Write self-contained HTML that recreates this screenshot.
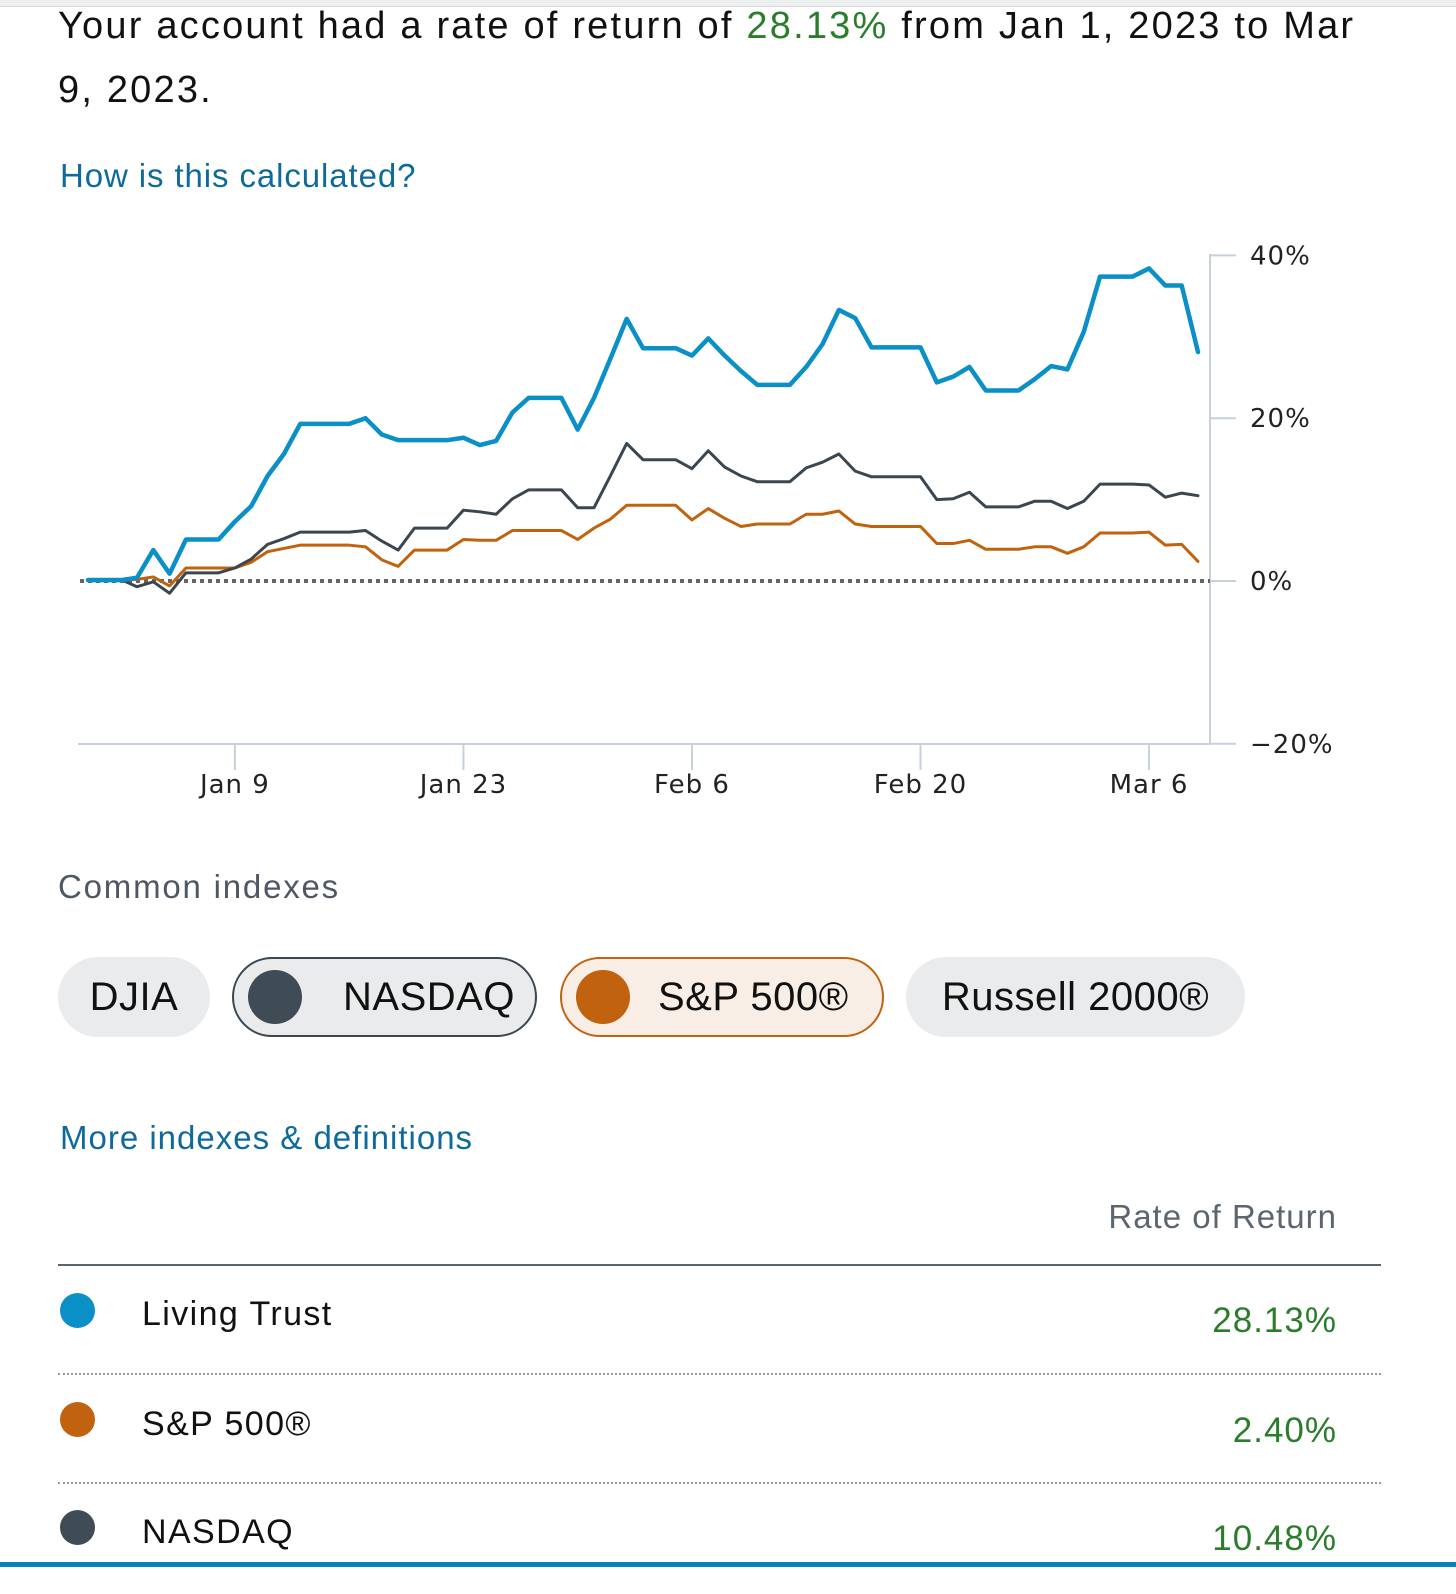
<!DOCTYPE html>
<html><head><meta charset="utf-8"><style>
body{margin:0;width:1456px;height:1589px;overflow:hidden;background:#fff;font-family:"Liberation Sans",sans-serif;position:relative}
.a{position:absolute;white-space:nowrap}
.pill{position:absolute;top:957px;height:80px;border-radius:41px;background:#e9ebed;box-sizing:border-box;font-size:40px;color:#111;display:flex;align-items:center;letter-spacing:0.5px}
.dot{display:inline-block;border-radius:50%}
.row{position:absolute;left:0;width:1456px}
</style></head><body>
<div class="a" style="left:0;top:0;width:1456px;height:6px;background:#eceef0;border-bottom:1px solid #d8d8d8"></div>
<div class="a" style="left:58px;top:-6px;font-size:38px;letter-spacing:2.2px;line-height:64px;color:#111;white-space:normal;width:1320px">Your account had a rate of return of <span style="color:#2a7d2a">28.13%</span> from Jan 1, 2023 to Mar 9, 2023.</div>
<div class="a" style="left:60px;top:157px;font-size:33px;letter-spacing:0.9px;color:#0f6a9c">How is this calculated?</div>
<svg class="a" id="chart" style="left:0;top:0" width="1456" height="820"></svg>
<div class="a" style="left:58px;top:868px;font-size:33px;letter-spacing:1.8px;color:#4d5863">Common indexes</div>
<div class="pill" style="left:58px;width:152px;justify-content:center">DJIA</div>
<div class="pill" style="left:232px;width:305px;border:2px solid #3b4650;padding-left:14px"><span class="dot" style="width:54px;height:54px;background:#3f4b55"></span><span style="margin-left:41px">NASDAQ</span></div>
<div class="pill" style="left:560px;width:324px;border:2px solid #c0620e;background:#f9eee6;padding-left:14px"><span class="dot" style="width:54px;height:54px;background:#c0620e"></span><span style="margin-left:28px">S&amp;P 500®</span></div>
<div class="pill" style="left:906px;width:339px;justify-content:center">Russell 2000®</div>
<div class="a" style="left:60px;top:1119px;font-size:33px;letter-spacing:1px;color:#0f6a9c">More indexes &amp; definitions</div>
<div class="a" style="right:119px;top:1198px;font-size:33px;letter-spacing:1px;color:#5c6670">Rate of Return</div>
<div class="a" style="left:58px;top:1264px;width:1323px;height:2px;background:#5a6570"></div>
<div class="row" style="top:1280px">
<span class="a dot" style="left:60px;top:13px;width:35px;height:35px;background:#0a8fc7"></span>
<span class="a" style="left:142px;top:15px;font-size:34px;letter-spacing:1.4px;color:#111">Living Trust</span>
<span class="a" style="right:119px;top:21px;font-size:35px;letter-spacing:1px;color:#2a7d2a">28.13%</span></div>
<div class="a" style="left:58px;top:1373px;width:1323px;border-top:2px dotted #999"></div>
<div class="row" style="top:1390px">
<span class="a dot" style="left:60px;top:12px;width:35px;height:35px;background:#c0620e"></span>
<span class="a" style="left:142px;top:15px;font-size:34px;letter-spacing:1.4px;color:#111">S&amp;P 500®</span>
<span class="a" style="right:119px;top:21px;font-size:35px;letter-spacing:1px;color:#2a7d2a">2.40%</span></div>
<div class="a" style="left:58px;top:1482px;width:1323px;border-top:2px dotted #999"></div>
<div class="row" style="top:1498px">
<span class="a dot" style="left:60px;top:12px;width:35px;height:35px;background:#3f4b55"></span>
<span class="a" style="left:142px;top:15px;font-size:34px;letter-spacing:1.4px;color:#111">NASDAQ</span>
<span class="a" style="right:119px;top:21px;font-size:35px;letter-spacing:1px;color:#2a7d2a">10.48%</span></div>
<div class="a" style="left:0;top:1562px;width:1456px;height:27px;background:#fff;border-top:5px solid #0a80b8"></div>
<script>
const trustValues=[0.1,0.1,0.1,0.4,3.8,0.9,5.1,5.1,5.1,7.3,9.2,12.9,15.6,19.3,19.3,19.3,19.3,20.0,18.0,17.3,17.3,17.3,17.3,17.6,16.7,17.2,20.7,22.5,22.5,22.5,18.6,22.5,27.3,32.2,28.6,28.6,28.6,27.7,29.8,27.7,25.8,24.1,24.1,24.1,26.3,29.1,33.3,32.3,28.7,28.7,28.7,28.7,24.4,25.1,26.3,23.4,23.4,23.4,24.8,26.4,26.0,30.6,37.4,37.4,37.4,38.4,36.3,36.3,28.13];
const nasdaqValues=[0.2,0.2,0.2,-0.7,-0.1,-1.5,1.0,1.0,1.0,1.6,2.7,4.5,5.2,6.0,6.0,6.0,6.0,6.2,4.9,3.8,6.5,6.5,6.5,8.7,8.5,8.2,10.1,11.2,11.2,11.2,9.0,9.0,12.9,16.9,14.9,14.9,14.9,13.8,16.0,14.0,12.9,12.2,12.2,12.2,13.9,14.6,15.6,13.5,12.8,12.8,12.8,12.8,10.0,10.1,10.9,9.1,9.1,9.1,9.8,9.8,8.9,9.8,11.9,11.9,11.9,11.8,10.3,10.8,10.48];
const spValues=[0.1,0.1,0.1,0.2,0.5,-0.6,1.6,1.6,1.6,1.6,2.3,3.6,4.0,4.4,4.4,4.4,4.4,4.2,2.6,1.8,3.8,3.8,3.8,5.1,5.0,5.0,6.2,6.2,6.2,6.2,5.1,6.5,7.6,9.3,9.3,9.3,9.3,7.5,8.9,7.7,6.7,7.0,7.0,7.0,8.2,8.2,8.6,7.0,6.7,6.7,6.7,6.7,4.6,4.6,5.0,3.9,3.9,3.9,4.2,4.2,3.4,4.2,5.9,5.9,5.9,6.0,4.4,4.5,2.4];
const yTicks=[40,20,0,-20];
const yTickLabels=["40%","20%","0%","−20%"];
const xTickIdx=[9,23,37,51,65];
const xTickLabels=["Jan 9","Jan 23","Feb 6","Feb 20","Mar 6"];
const NS="http://www.w3.org/2000/svg";
const svg=document.getElementById('chart');
const X=i=>88+i*(1110/68);
const Y=v=>581-v*8.14;
function mk(t,at){const e=document.createElementNS(NS,t);for(const k in at)e.setAttribute(k,at[k]);svg.appendChild(e);return e;}
let e=mk('line',{x1:78,x2:1210,y1:744,y2:744,stroke:'#c8d0dc','stroke-width':2});


e=mk('line',{x1:1210,x2:1210,y1:254,y2:744,stroke:'#c8d0dc','stroke-width':2});


yTicks.forEach((v,k)=>{
 let t=mk('line',{x1:1210,x2:1236,y1:Y(v),y2:Y(v),stroke:'#c8d0dc','stroke-width':2});
 
 
 let l=mk('text',{x:1250,y:Y(v)+9,'font-size':26,'letter-spacing':1,'font-family':'DejaVu Sans, sans-serif',fill:'#222'});
 l.textContent=yTickLabels[k];
 
 
});
xTickIdx.forEach((i,k)=>{
 let t=mk('line',{x1:X(i),x2:X(i),y1:744,y2:770,stroke:'#c8d0dc','stroke-width':2});
 
 
 let l=mk('text',{x:X(i),y:793,'font-size':26,'letter-spacing':1,'font-family':'DejaVu Sans, sans-serif',fill:'#222','text-anchor':'middle'});
 l.textContent=xTickLabels[k];
 
 
});
e=mk('line',{x1:80,x2:1210,y1:Y(0),y2:Y(0),stroke:'#666','stroke-width':4,'stroke-dasharray':'4 4'});


function series(vals,color,w,name){
 const p=mk('polyline',{points:vals.map((v,i)=>X(i)+','+Y(v)).join(' '),fill:'none',stroke:color,'stroke-width':w,'stroke-linejoin':'round','stroke-linecap':'round'});
 
 
}
series(spValues,'#c0620e',3,'sp500-line');
series(nasdaqValues,'#3b4650',3,'nasdaq-line');
series(trustValues,'#0a8fc7',4.5,'living-trust-line');
</script>
</body></html>
